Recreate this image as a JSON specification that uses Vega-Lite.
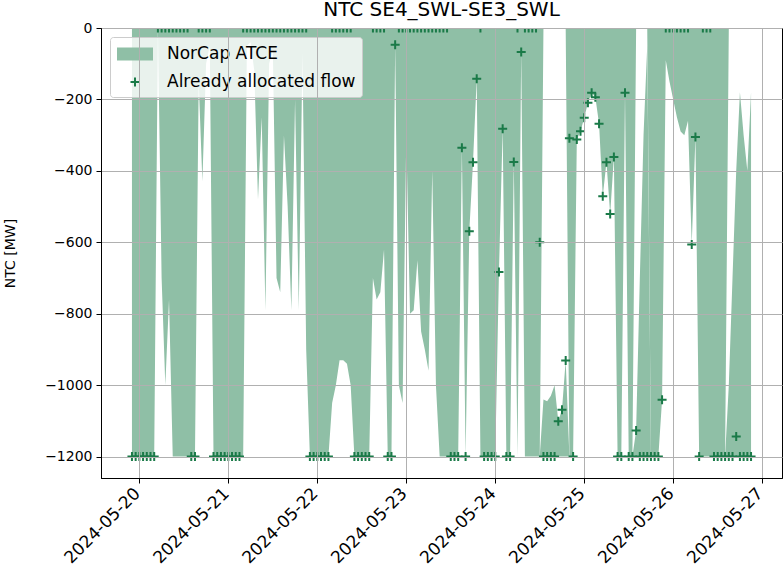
{
"$schema": "https://vega.github.io/schema/vega-lite/v6.json",
"width": 681, "height": 450,
"autosize": {"type": "none"},
"padding": {"left": 101, "top": 28, "right": 1, "bottom": 97},
"background": "white",
"title": {"text": "NTC SE4_SWL-SE3_SWL", "fontSize": 20, "font": "DejaVu Sans", "fontWeight": "normal", "color": "black", "offset": 1, "anchor": "middle"},
"config": {"view": {"stroke": "black", "strokeWidth": 1}},
"data": {"values": [
{"t":"2024-05-19T22:00Z","f":-1200,"a":-1200,"b":-1200},
{"t":"2024-05-19T23:00Z","f":-1200,"a":-1200,"b":-1200},
{"t":"2024-05-20T00:00Z","f":-1200,"a":-1200,"b":-1200},
{"t":"2024-05-20T01:00Z","f":-1200,"a":-1200,"b":-1200},
{"t":"2024-05-20T02:00Z","f":-1200,"a":-1200,"b":-1200},
{"t":"2024-05-20T03:00Z","f":-1200,"a":-1200,"b":-1200},
{"t":"2024-05-20T04:00Z","f":-1200,"a":-1200,"b":-1200},
{"t":"2024-05-20T05:00Z","f":0,"a":0,"b":-1200},
{"t":"2024-05-20T06:00Z","f":0,"a":-700,"b":-1200},
{"t":"2024-05-20T07:00Z","f":0,"a":-1000,"b":-1200},
{"t":"2024-05-20T08:00Z","f":0,"a":-760,"b":-1200},
{"t":"2024-05-20T09:00Z","f":0,"a":-1200,"b":-1200},
{"t":"2024-05-20T10:00Z","f":0,"a":-1200,"b":-1200},
{"t":"2024-05-20T11:00Z","f":0,"a":-1200,"b":-1200},
{"t":"2024-05-20T12:00Z","f":0,"a":-1200,"b":-1200},
{"t":"2024-05-20T13:00Z","f":0,"a":-1200,"b":-1200},
{"t":"2024-05-20T14:00Z","f":-1200,"a":-1200,"b":-1200},
{"t":"2024-05-20T15:00Z","f":-1200,"a":-1200,"b":-1200},
{"t":"2024-05-20T16:00Z","f":0,"a":-150,"b":-1200},
{"t":"2024-05-20T17:00Z","f":0,"a":-430,"b":-1200},
{"t":"2024-05-20T18:00Z","f":0,"a":-100,"b":-1200},
{"t":"2024-05-20T19:00Z","f":0,"a":-50,"b":-1200},
{"t":"2024-05-20T20:00Z","f":-1200,"a":-1200,"b":-1200},
{"t":"2024-05-20T21:00Z","f":-1200,"a":-1200,"b":-1200},
{"t":"2024-05-20T22:00Z","f":-1200,"a":-1200,"b":-1200},
{"t":"2024-05-20T23:00Z","f":-1200,"a":-1200,"b":-1200},
{"t":"2024-05-21T00:00Z","f":-1200,"a":-1200,"b":-1200},
{"t":"2024-05-21T01:00Z","f":-1200,"a":-1200,"b":-1200},
{"t":"2024-05-21T02:00Z","f":-1200,"a":-1200,"b":-1200},
{"t":"2024-05-21T03:00Z","f":-1200,"a":-1200,"b":-1200},
{"t":"2024-05-21T04:00Z","f":0,"a":-1200,"b":-1200},
{"t":"2024-05-21T05:00Z","f":0,"a":-50,"b":-1200},
{"t":"2024-05-21T06:00Z","f":0,"a":-40,"b":-1200},
{"t":"2024-05-21T07:00Z","f":0,"a":-120,"b":-1200},
{"t":"2024-05-21T08:00Z","f":0,"a":-480,"b":-1200},
{"t":"2024-05-21T09:00Z","f":0,"a":-250,"b":-1200},
{"t":"2024-05-21T10:00Z","f":0,"a":-790,"b":-1200},
{"t":"2024-05-21T11:00Z","f":0,"a":-100,"b":-1200},
{"t":"2024-05-21T12:00Z","f":0,"a":-60,"b":-1200},
{"t":"2024-05-21T13:00Z","f":0,"a":-700,"b":-1200},
{"t":"2024-05-21T14:00Z","f":0,"a":-740,"b":-1200},
{"t":"2024-05-21T15:00Z","f":0,"a":-300,"b":-1200},
{"t":"2024-05-21T16:00Z","f":0,"a":-500,"b":-1200},
{"t":"2024-05-21T17:00Z","f":0,"a":-790,"b":-1200},
{"t":"2024-05-21T18:00Z","f":0,"a":-200,"b":-1200},
{"t":"2024-05-21T19:00Z","f":0,"a":-790,"b":-1200},
{"t":"2024-05-21T20:00Z","f":0,"a":-70,"b":-1200},
{"t":"2024-05-21T21:00Z","f":0,"a":-900,"b":-1200},
{"t":"2024-05-21T22:00Z","f":-1200,"a":-1200,"b":-1200},
{"t":"2024-05-21T23:00Z","f":-1200,"a":-1200,"b":-1200},
{"t":"2024-05-22T00:00Z","f":-1200,"a":-1200,"b":-1200},
{"t":"2024-05-22T01:00Z","f":-1200,"a":-1200,"b":-1200},
{"t":"2024-05-22T02:00Z","f":-1200,"a":-1200,"b":-1200},
{"t":"2024-05-22T03:00Z","f":-1200,"a":-1200,"b":-1200},
{"t":"2024-05-22T04:00Z","f":0,"a":-1050,"b":-1200},
{"t":"2024-05-22T05:00Z","f":0,"a":-1000,"b":-1200},
{"t":"2024-05-22T06:00Z","f":0,"a":-930,"b":-1200},
{"t":"2024-05-22T07:00Z","f":0,"a":-930,"b":-1200},
{"t":"2024-05-22T08:00Z","f":0,"a":-940,"b":-1200},
{"t":"2024-05-22T09:00Z","f":0,"a":-1000,"b":-1200},
{"t":"2024-05-22T10:00Z","f":-1200,"a":-1200,"b":-1200},
{"t":"2024-05-22T11:00Z","f":-1200,"a":-1200,"b":-1200},
{"t":"2024-05-22T12:00Z","f":-1200,"a":-1200,"b":-1200},
{"t":"2024-05-22T13:00Z","f":-1200,"a":-1200,"b":-1200},
{"t":"2024-05-22T14:00Z","f":-1200,"a":-1200,"b":-1200},
{"t":"2024-05-22T15:00Z","f":0,"a":-700,"b":-1200},
{"t":"2024-05-22T16:00Z","f":0,"a":-760,"b":-1200},
{"t":"2024-05-22T17:00Z","f":0,"a":-740,"b":-1200},
{"t":"2024-05-22T18:00Z","f":0,"a":-620,"b":-1200},
{"t":"2024-05-22T19:00Z","f":-1200,"a":-1200,"b":-1200},
{"t":"2024-05-22T20:00Z","f":-1200,"a":-1200,"b":-1200},
{"t":"2024-05-22T21:00Z","f":-47,"a":-47,"b":-1200},
{"t":"2024-05-22T22:00Z","f":0,"a":-1000,"b":-1200},
{"t":"2024-05-22T23:00Z","f":0,"a":-1050,"b":-1200},
{"t":"2024-05-23T00:00Z","f":0,"a":-300,"b":-1200},
{"t":"2024-05-23T01:00Z","f":0,"a":-800,"b":-1200},
{"t":"2024-05-23T02:00Z","f":0,"a":-790,"b":-1200},
{"t":"2024-05-23T03:00Z","f":0,"a":-650,"b":-1200},
{"t":"2024-05-23T04:00Z","f":0,"a":-850,"b":-1200},
{"t":"2024-05-23T05:00Z","f":0,"a":-900,"b":-1200},
{"t":"2024-05-23T06:00Z","f":0,"a":-960,"b":-1200},
{"t":"2024-05-23T07:00Z","f":0,"a":-400,"b":-1200},
{"t":"2024-05-23T08:00Z","f":0,"a":-1000,"b":-1200},
{"t":"2024-05-23T09:00Z","f":0,"a":-1200,"b":-1200},
{"t":"2024-05-23T10:00Z","f":0,"a":-1200,"b":-1200},
{"t":"2024-05-23T11:00Z","f":0,"a":-1200,"b":-1200},
{"t":"2024-05-23T12:00Z","f":-1200,"a":-1200,"b":-1200},
{"t":"2024-05-23T13:00Z","f":-1200,"a":-1200,"b":-1200},
{"t":"2024-05-23T14:00Z","f":-1200,"a":-1200,"b":-1200},
{"t":"2024-05-23T15:00Z","f":-335,"a":-335,"b":-1200},
{"t":"2024-05-23T16:00Z","f":-1200,"a":-1200,"b":-1200},
{"t":"2024-05-23T17:00Z","f":-569,"a":-569,"b":-1200},
{"t":"2024-05-23T18:00Z","f":-376,"a":-376,"b":-1200},
{"t":"2024-05-23T19:00Z","f":-142,"a":-142,"b":-1200},
{"t":"2024-05-23T20:00Z","f":0,"a":-1200,"b":-1200},
{"t":"2024-05-23T21:00Z","f":-1200,"a":-1200,"b":-1200},
{"t":"2024-05-23T22:00Z","f":-1200,"a":-1200,"b":-1200},
{"t":"2024-05-23T23:00Z","f":-1200,"a":-1200,"b":-1200},
{"t":"2024-05-24T00:00Z","f":-1200,"a":-1200,"b":-1200},
{"t":"2024-05-24T01:00Z","f":-683,"a":-683,"b":-1200},
{"t":"2024-05-24T02:00Z","f":-282,"a":-282,"b":-1200},
{"t":"2024-05-24T03:00Z","f":-1200,"a":-1200,"b":-1200},
{"t":"2024-05-24T04:00Z","f":-1200,"a":-1200,"b":-1200},
{"t":"2024-05-24T05:00Z","f":-375,"a":-375,"b":-1200},
{"t":"2024-05-24T06:00Z","f":0,"a":-1200,"b":-1200},
{"t":"2024-05-24T07:00Z","f":-67,"a":-67,"b":-1200},
{"t":"2024-05-24T08:00Z","f":0,"a":-1200,"b":-1200},
{"t":"2024-05-24T09:00Z","f":0,"a":-1200,"b":-1200},
{"t":"2024-05-24T10:00Z","f":0,"a":-1200,"b":-1200},
{"t":"2024-05-24T11:00Z","f":0,"a":-1200,"b":-1200},
{"t":"2024-05-24T12:00Z","f":-600,"a":-1200,"b":-1200},
{"t":"2024-05-24T13:00Z","f":-1200,"a":0,"b":-1040},
{"t":"2024-05-24T14:00Z","f":-1200,"a":0,"b":-1045},
{"t":"2024-05-24T15:00Z","f":-1200,"a":0,"b":-1030},
{"t":"2024-05-24T16:00Z","f":-1200,"a":0,"b":-1000},
{"t":"2024-05-24T17:00Z","f":-1101,"a":0,"b":-1101},
{"t":"2024-05-24T18:00Z","f":-1069,"a":0,"b":-1069},
{"t":"2024-05-24T19:00Z","f":-931,"a":0,"b":-931},
{"t":"2024-05-24T20:00Z","f":-309,"a":-1200,"b":-1200},
{"t":"2024-05-24T21:00Z","f":-1200,"a":-1200,"b":-1200},
{"t":"2024-05-24T22:00Z","f":-312,"a":-312,"b":-1200},
{"t":"2024-05-24T23:00Z","f":-289,"a":-289,"b":-1200},
{"t":"2024-05-25T00:00Z","f":-251,"a":-251,"b":-1200},
{"t":"2024-05-25T01:00Z","f":-209,"a":-209,"b":-1200},
{"t":"2024-05-25T02:00Z","f":-181,"a":-181,"b":-1200},
{"t":"2024-05-25T03:00Z","f":-194,"a":-194,"b":-1200},
{"t":"2024-05-25T04:00Z","f":-268,"a":-268,"b":-1200},
{"t":"2024-05-25T05:00Z","f":-471,"a":-471,"b":-1200},
{"t":"2024-05-25T06:00Z","f":-376,"a":-376,"b":-1200},
{"t":"2024-05-25T07:00Z","f":-521,"a":-521,"b":-1200},
{"t":"2024-05-25T08:00Z","f":-361,"a":-361,"b":-1200},
{"t":"2024-05-25T09:00Z","f":-1200,"a":-1200,"b":-1200},
{"t":"2024-05-25T10:00Z","f":-1200,"a":-1200,"b":-1200},
{"t":"2024-05-25T11:00Z","f":-181,"a":-181,"b":-1200},
{"t":"2024-05-25T12:00Z","f":-1200,"a":-1200,"b":-1200},
{"t":"2024-05-25T13:00Z","f":-1200,"a":-1200,"b":-1200},
{"t":"2024-05-25T14:00Z","f":-1127,"a":0,"b":-1127},
{"t":"2024-05-25T15:00Z","f":-1200,"a":0,"b":-700},
{"t":"2024-05-25T16:00Z","f":-1200,"a":0,"b":-300},
{"t":"2024-05-25T17:00Z","f":-1200,"a":0,"b":-50},
{"t":"2024-05-25T18:00Z","f":-1200,"a":-1200,"b":-1200},
{"t":"2024-05-25T19:00Z","f":-1200,"a":-1200,"b":-1200},
{"t":"2024-05-25T20:00Z","f":-1200,"a":-1200,"b":-1200},
{"t":"2024-05-25T21:00Z","f":-1041,"a":-1041,"b":-1200},
{"t":"2024-05-25T22:00Z","f":0,"a":-90,"b":-1200},
{"t":"2024-05-25T23:00Z","f":0,"a":-150,"b":-1200},
{"t":"2024-05-26T00:00Z","f":0,"a":-200,"b":-1200},
{"t":"2024-05-26T01:00Z","f":0,"a":-250,"b":-1200},
{"t":"2024-05-26T02:00Z","f":0,"a":-290,"b":-1200},
{"t":"2024-05-26T03:00Z","f":0,"a":-300,"b":-1200},
{"t":"2024-05-26T04:00Z","f":0,"a":-260,"b":-1200},
{"t":"2024-05-26T05:00Z","f":-606,"a":-606,"b":-1200},
{"t":"2024-05-26T06:00Z","f":-305,"a":-305,"b":-1200},
{"t":"2024-05-26T07:00Z","f":-1200,"a":-1200,"b":-1200},
{"t":"2024-05-26T08:00Z","f":0,"a":-1200,"b":-1200},
{"t":"2024-05-26T09:00Z","f":0,"a":-1200,"b":-1200},
{"t":"2024-05-26T10:00Z","f":0,"a":-1200,"b":-1200},
{"t":"2024-05-26T11:00Z","f":-1200,"a":-1200,"b":-1200},
{"t":"2024-05-26T12:00Z","f":-1200,"a":-1200,"b":-1200},
{"t":"2024-05-26T13:00Z","f":-1200,"a":-1200,"b":-1200},
{"t":"2024-05-26T14:00Z","f":-1200,"a":-1200,"b":-1200},
{"t":"2024-05-26T15:00Z","f":-1200,"a":0,"b":-1000},
{"t":"2024-05-26T16:00Z","f":-1200,"a":0,"b":-700},
{"t":"2024-05-26T17:00Z","f":-1144,"a":0,"b":-400},
{"t":"2024-05-26T18:00Z","f":-1200,"a":0,"b":-180},
{"t":"2024-05-26T19:00Z","f":-1200,"a":0,"b":-300},
{"t":"2024-05-26T20:00Z","f":-1200,"a":0,"b":-400},
{"t":"2024-05-26T21:00Z","f":-1200,"a":0,"b":-180}
]},
"encoding": {
  "x": {"field": "t", "type": "temporal",
    "scale": {"type": "utc", "nice": false, "domain": [
      {"year": 2024, "month": 5, "date": 19, "hours": 13, "minutes": 39, "utc": true},
      {"year": 2024, "month": 5, "date": 27, "hours": 5, "minutes": 21, "utc": true}]},
    "axis": {"title": null, "labelExpr": "utcFormat(datum.value, '%Y-%m-%d')",
      "values": [
        {"year": 2024, "month": 5, "date": 20, "utc": true},
        {"year": 2024, "month": 5, "date": 21, "utc": true},
        {"year": 2024, "month": 5, "date": 22, "utc": true},
        {"year": 2024, "month": 5, "date": 23, "utc": true},
        {"year": 2024, "month": 5, "date": 24, "utc": true},
        {"year": 2024, "month": 5, "date": 25, "utc": true},
        {"year": 2024, "month": 5, "date": 26, "utc": true},
        {"year": 2024, "month": 5, "date": 27, "utc": true}],
      "labelAngle": -45, "labelAlign": "right", "labelBaseline": "top", "labelFontSize": 17, "labelFont": "DejaVu Sans", "labelColor": "black",
      "labelPadding": 2, "labelOffset": -8, "labelOverlap": false, "labelFlush": false, "tickColor": "black", "tickSize": 5, "domainColor": "black",
      "grid": true, "gridColor": "#b0b0b0", "gridWidth": 1, "zindex": 1}}
},
"layer": [
  {"mark": {"type": "area", "clip": true, "interpolate": "linear", "color": "#8fbfa6"},
   "encoding": {
     "y": {"field": "a", "type": "quantitative",
       "scale": {"domain": [-1260, 0], "nice": false, "zero": false},
       "axis": {"title": "NTC [MW]", "titleFont": "DejaVu Sans", "titleFontSize": 14, "titleFontWeight": "normal", "titleColor": "black", "titlePadding": 27,
         "values": [-1200, -1000, -800, -600, -400, -200, 0],
         "labelExpr": "datum.value === 0 ? '0' : '\u2212' + format(-datum.value, 'd')",
         "labelFontSize": 14, "labelFont": "DejaVu Sans", "labelColor": "black", "labelPadding": 4,
         "tickColor": "black", "tickSize": 5, "domainColor": "black", "grid": true, "gridColor": "#b0b0b0", "gridWidth": 1, "zindex": 1}},
     "y2": {"datum": 0}
   }},
  {"mark": {"type": "area", "clip": true, "interpolate": "linear", "color": "#8fbfa6"},
   "encoding": {
     "y": {"field": "b", "type": "quantitative"},
     "y2": {"datum": -1200}
   }},
  {"mark": {"type": "point", "filled": false, "strokeWidth": 2, "size": 400, "opacity": 1, "clip": true},
   "encoding": {
     "y": {"field": "f", "type": "quantitative"},
     "stroke": {"datum": "Already allocated flow", "type": "nominal",
       "scale": {"domain": ["NorCap ATCE", "Already allocated flow"], "range": ["#8fbfa6", "#1a7a48"]},
       "legend": {"title": null, "orient": "top-left", "offset": 9,
         "labelFontSize": 17, "labelFont": "DejaVu Sans", "labelColor": "black", "labelOffset": 21, "labelLimit": 400,
         "fillColor": "rgba(255,255,255,0.8)", "strokeColor": "#cccccc", "cornerRadius": 3, "padding": 6, "rowPadding": 7,
         "symbolSize": 400, "symbolOffset": 8, "symbolStrokeWidth": 2, "symbolOpacity": 1, "symbolFillColor": "transparent"}},
     "shape": {"datum": "Already allocated flow", "type": "nominal",
       "scale": {"domain": ["NorCap ATCE", "Already allocated flow"], "range": ["M-1.8,-0.54H1.8M-1.8,-0.36H1.8M-1.8,-0.18H1.8M-1.8,0H1.8M-1.8,0.18H1.8M-1.8,0.36H1.8M-1.8,0.54H1.8", "M-0.45,0H0.45M0,-0.45V0.45"]},
       "legend": {"title": null, "orient": "top-left", "offset": 9,
         "labelFontSize": 17, "labelFont": "DejaVu Sans", "labelColor": "black", "labelOffset": 21, "labelLimit": 400,
         "fillColor": "rgba(255,255,255,0.8)", "strokeColor": "#cccccc", "cornerRadius": 3, "padding": 6, "rowPadding": 7,
         "symbolSize": 400, "symbolOffset": 8, "symbolStrokeWidth": 2, "symbolOpacity": 1, "symbolFillColor": "transparent"}}
   }}
]
}
